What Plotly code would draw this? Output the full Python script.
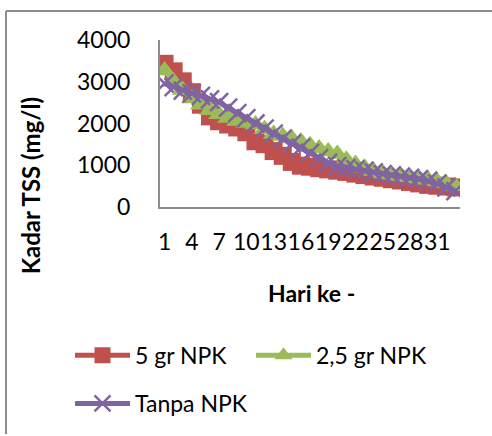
import plotly.graph_objects as go

days = list(range(1, 34))
red_5gr = [3430, 3250, 3010, 2750, 2450, 2170, 2055, 1975, 1905, 1790, 1575, 1505, 1340, 1225, 1080, 990,
           965, 930, 900, 870, 840, 800, 765, 730, 700, 665, 635, 600, 565, 530, 510, 490, 470]
green_25gr = [3270, 3000, 2800, 2600, 2450, 2320, 2220, 2130, 2060, 2010, 1975, 1860, 1750, 1700, 1640, 1570,
              1480, 1400, 1330, 1270, 1130, 1030, 940, 860, 800, 770, 740, 710, 680, 650, 610, 560, 500]
purple_tanpa = [2960, 2870, 2790, 2720, 2660, 2580, 2510, 2380, 2250, 2130, 2000, 1880, 1760, 1640, 1520, 1420,
                1295, 1170, 1060, 980, 930, 900, 870, 830, 790, 760, 730, 700, 670, 630, 560, 470, 380]
tick_days = days[::3]
tick_text = [str(d) for d in tick_days]

series_names = ["5 gr NPK", "2,5 gr NPK", "Tanpa NPK"]
RED, GREEN, PURPLE = "#C0504D", "#9BBB59", "#8064A2"
FONT = "Lato"

W, H = 492, 436
L, R, T, B = 160, 32, 40, 226
PW, PH = W - L - R, H - T - B


def px(x):
    return (x - L) / PW


def py(y):
    return (H - B - y) / PH


fig = go.Figure()
fig.add_trace(go.Scatter(
    x=days, y=red_5gr, name=series_names[0], mode="lines+markers",
    line=dict(color=RED, width=5),
    marker=dict(symbol="square", size=18, color=RED, line=dict(width=0)),
    legend="legend"))
fig.add_trace(go.Scatter(
    x=days, y=green_25gr, name=series_names[1], mode="lines+markers",
    line=dict(color=GREEN, width=5),
    marker=dict(symbol="triangle-up", size=19, color=GREEN, line=dict(width=0)),
    legend="legend2"))
fig.add_trace(go.Scatter(
    x=days, y=purple_tanpa, name=series_names[2], mode="lines+markers",
    line=dict(color=PURPLE, width=5),
    marker=dict(symbol="x-thin", size=18, color=PURPLE, line=dict(width=2.5, color=PURPLE)),
    legend="legend3"))

legend_common = dict(orientation="h", yanchor="middle", xanchor="left",
                     font=dict(family=FONT, size=23, color="#000000"),
                     bgcolor="rgba(0,0,0,0)", itemwidth=55, borderwidth=0)

fig.update_layout(
    width=W, height=H,
    margin=dict(l=L, r=R, t=T, b=B, pad=0),
    paper_bgcolor="white", plot_bgcolor="white",
    font=dict(family=FONT, size=23, color="#000000"),
    xaxis=dict(range=[0.5, 33.5], tickmode="array", tickvals=tick_days, ticktext=tick_text,
               tickangle=0, showgrid=False, zeroline=False, showline=True,
               linecolor="#8c8c8c", linewidth=2, ticks="", ticklabelstandoff=13,
               tickfont=dict(family=FONT, size=23, color="#000000")),
    yaxis=dict(range=[0, 4000], dtick=1000, showgrid=False, zeroline=False, showline=True,
               linecolor="#8c8c8c", linewidth=2, ticks="", ticklabelstandoff=23,
               tickfont=dict(family=FONT, size=23, color="#000000")),
    legend=dict(x=px(70), y=py(361), **legend_common),
    legend2=dict(x=px(251), y=py(361), **legend_common),
    legend3=dict(x=px(70), y=py(410), **legend_common),
    showlegend=True,
)

fig.add_annotation(text="<b>Hari ke -</b>", xref="paper", yref="paper", x=px(311), y=py(298),
                   xanchor="center", yanchor="middle", showarrow=False,
                   font=dict(family=FONT, size=23, color="#000000"))
fig.add_annotation(text="<b>Kadar TSS (mg/l)</b>", xref="paper", yref="paper", x=px(30), y=py(189),
                   xanchor="center", yanchor="middle", showarrow=False, textangle=-90,
                   font=dict(family=FONT, size=24, color="#000000"))

# chart-area border (top and left edges visible in the reference)
fig.add_shape(type="line", xref="paper", yref="paper", x0=px(6), x1=px(W + 5), y0=py(10.5), y1=py(10.5),
              line=dict(color="#8c8c8c", width=2))
fig.add_shape(type="line", xref="paper", yref="paper", x0=px(6), x1=px(6), y0=py(10.5), y1=py(H + 5),
              line=dict(color="#8c8c8c", width=2))

fig.write_html("out.html")
